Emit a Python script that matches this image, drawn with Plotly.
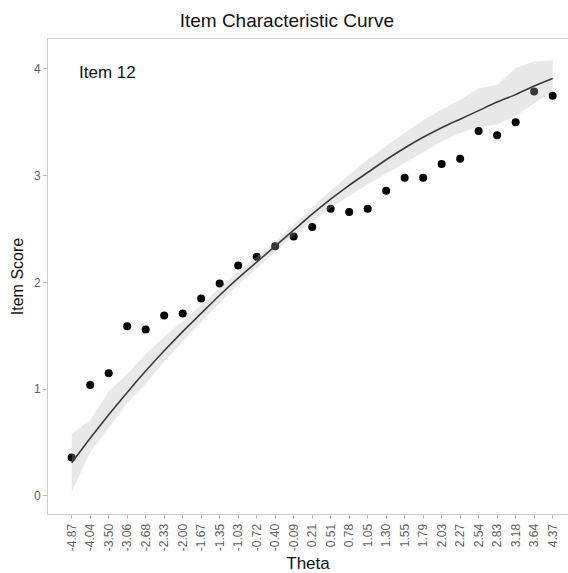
import plotly.graph_objects as go

theta_labels = ["-4.87", "-4.04", "-3.50", "-3.06", "-2.68", "-2.33", "-2.00", "-1.67",
                "-1.35", "-1.03", "-0.72", "-0.40", "-0.09", "0.21", "0.51", "0.78",
                "1.05", "1.30", "1.55", "1.79", "2.03", "2.27", "2.54", "2.83",
                "3.18", "3.64", "4.37"]

observed = [0.36, 1.04, 1.15, 1.59, 1.56, 1.69, 1.71, 1.85, 1.99, 2.16, 2.24, 2.34,
            2.43, 2.52, 2.69, 2.66, 2.69, 2.86, 2.98, 2.98, 3.11, 3.16, 3.42, 3.38,
            3.50, 3.79, 3.75]

expected = [0.31, 0.54, 0.76, 0.97, 1.17, 1.36, 1.54, 1.71, 1.88, 2.04, 2.19, 2.34,
            2.49, 2.64, 2.78, 2.91, 3.03, 3.15, 3.26, 3.36, 3.45, 3.53, 3.61, 3.69,
            3.76, 3.84, 3.91]

band_upper = [0.58, 0.71, 0.98, 1.14, 1.33, 1.49, 1.64, 1.79, 1.95, 2.10, 2.24, 2.38,
              2.54, 2.70, 2.86, 3.01, 3.15, 3.28, 3.40, 3.52, 3.62, 3.71, 3.82, 3.85,
              4.01, 4.07, 4.08]

band_lower = [0.04, 0.41, 0.64, 0.87, 1.05, 1.26, 1.45, 1.63, 1.81, 1.98, 2.13, 2.29,
              2.44, 2.57, 2.70, 2.81, 2.92, 3.02, 3.12, 3.22, 3.32, 3.40, 3.46, 3.48,
              3.56, 3.68, 3.79]

FONT = "Liberation Sans, Arial, Helvetica, sans-serif"

fig = go.Figure()

fig.add_trace(go.Scatter(
    x=theta_labels, y=observed, mode="markers",
    marker=dict(color="black", size=8, line=dict(width=0)),
    showlegend=False, hoverinfo="skip"))

fig.add_trace(go.Scatter(
    x=theta_labels + theta_labels[::-1],
    y=band_upper + band_lower[::-1],
    mode="lines", fill="toself",
    fillcolor="rgba(178,178,178,0.3)",
    line=dict(width=0), showlegend=False, hoverinfo="skip"))

fig.add_trace(go.Scatter(
    x=theta_labels, y=expected, mode="lines",
    line=dict(color="#3c3c3c", width=1.6, shape="spline", smoothing=0.6),
    showlegend=False, hoverinfo="skip"))

fig.update_layout(
    width=568, height=573,
    margin=dict(l=48, r=0, t=39, b=59),
    paper_bgcolor="white", plot_bgcolor="white",
    font=dict(family=FONT, color="#222222"),
    title=dict(text="Item Characteristic Curve", x=0.505, xanchor="center",
               y=1 - 20 / 573, yanchor="middle",
               font=dict(size=19, color="#111111", family=FONT)),
    xaxis=dict(
        type="category", range=[-1.28, 26.83],
        showgrid=False, zeroline=False,
        showline=True, linecolor="#cccccc", linewidth=1, mirror=True,
        ticks="outside", ticklen=4, tickcolor="#bbbbbb", tickwidth=1,
        tickangle=-90, tickfont=dict(size=12, color="#606060", family=FONT),
        title=dict(text="Theta", font=dict(size=17, color="#111111", family=FONT),
                   standoff=6),
    ),
    yaxis=dict(
        range=[-0.169, 4.281],
        tickvals=[0, 1, 2, 3, 4],
        showgrid=False, zeroline=False,
        showline=True, linecolor="#cccccc", linewidth=1,
        ticks="outside", ticklen=4, tickcolor="#bbbbbb", tickwidth=1,
        tickfont=dict(size=12, color="#606060", family=FONT),
        title=dict(text="Item Score", font=dict(size=16, color="#111111", family=FONT),
                   standoff=6),
    ),
    annotations=[dict(
        text="Item 12", xref="paper", yref="paper",
        x=(77 - 48) / 520, y=(514 - 72) / 475, xanchor="left", yanchor="middle",
        showarrow=False, font=dict(size=17, color="#111111", family=FONT))],
)

fig.write_html("out.html")
